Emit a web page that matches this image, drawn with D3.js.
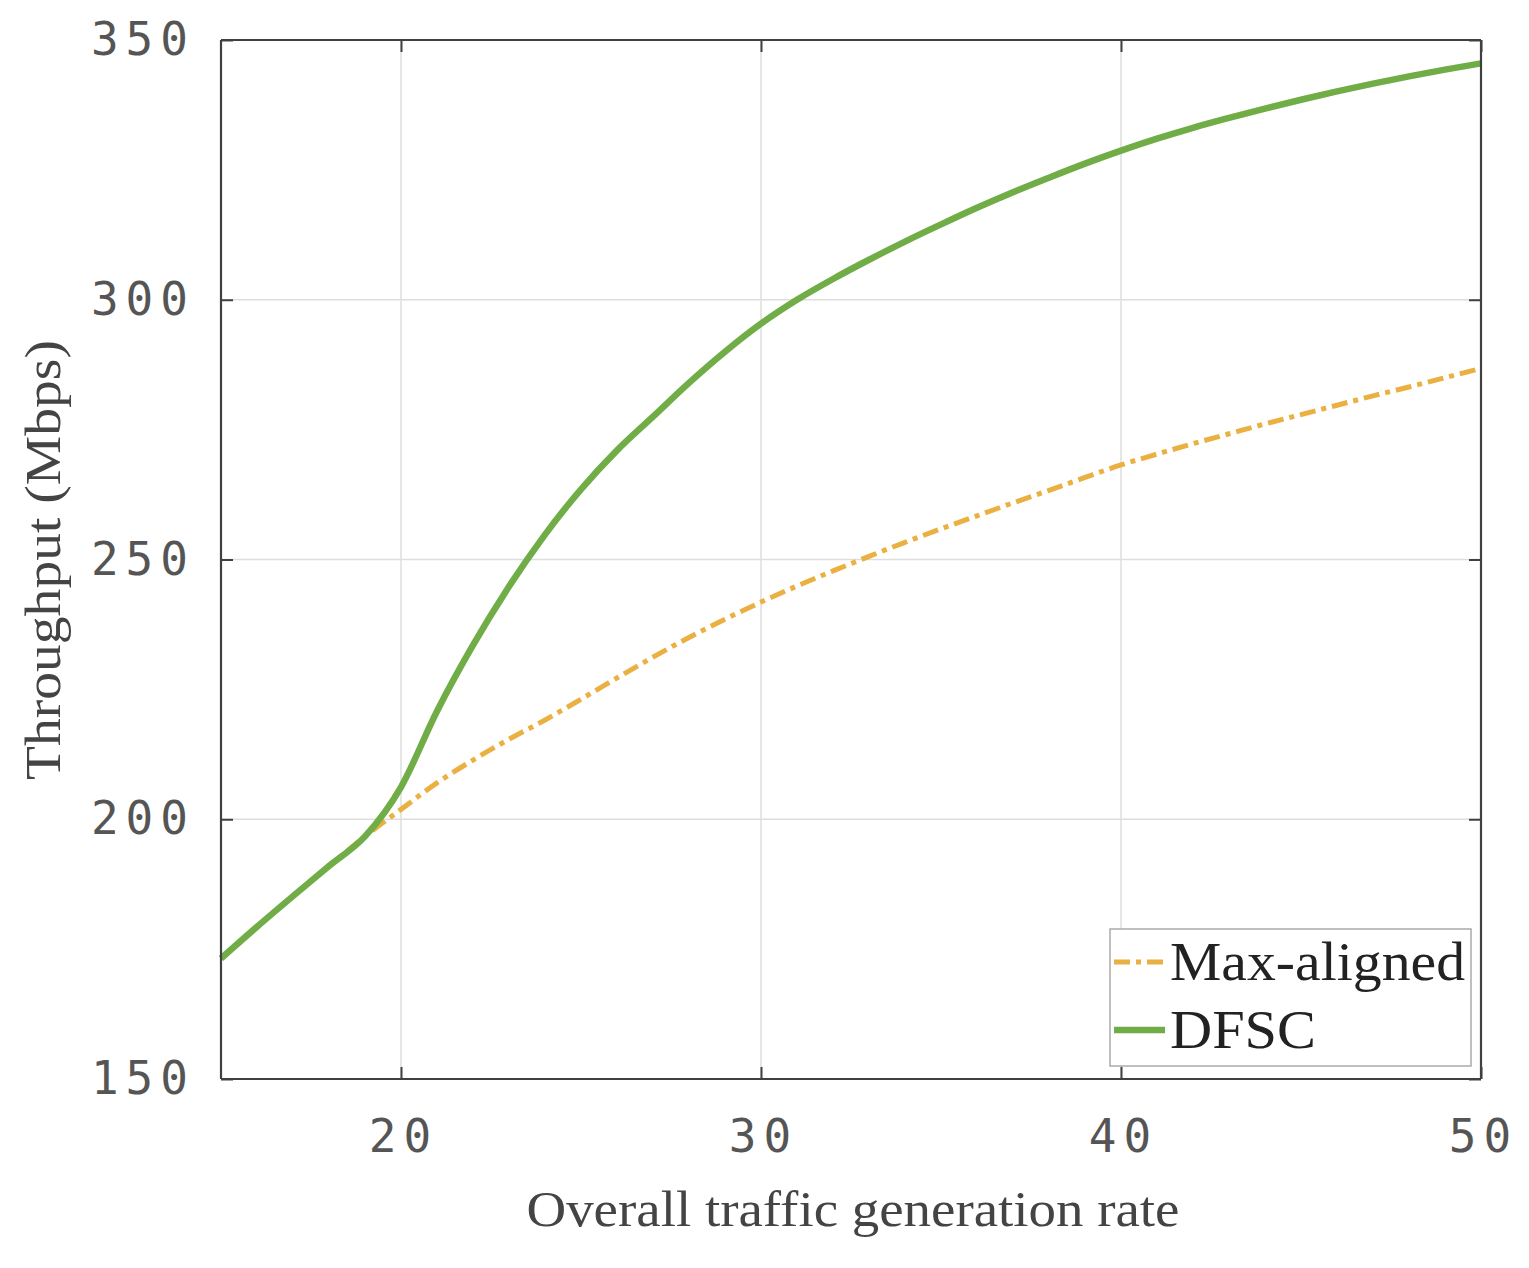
<!DOCTYPE html>
<html><head><meta charset="utf-8">
<script src="https://cdn.jsdelivr.net/npm/d3@7"></script>
<style>
body{margin:0;background:#fff;}
svg{display:block;}
</style></head>
<body>
<svg id="chart" width="1529" height="1268"></svg>
<script>
const xValues = [15,16,17,18,19,20,21,22,23,24,25,26,27,28,29,30,31,32,33,34,35,36,37,38,39,40,41,42,43,44,45,46,47,48,49,50];
const dfscValues = [173.2,179.3,185.2,191.0,196.7,206.2,220.8,233.5,244.8,254.8,263.5,271.0,277.5,284.0,290.0,295.4,300.0,304.0,307.7,311.2,314.5,317.7,320.7,323.5,326.2,328.7,331.0,333.1,335.0,336.8,338.5,340.1,341.6,343.0,344.3,345.5];
const maxAlignedValues = [173.2,179.3,185.2,191.0,196.7,201.9,207.0,211.4,215.4,219.1,223.1,227.2,231.2,235.0,238.5,241.8,244.9,247.8,250.6,253.3,255.9,258.4,260.9,263.3,265.8,268.2,270.3,272.3,274.2,276.1,277.9,279.7,281.5,283.2,285.0,286.8];
const xTicks = [20,30,40,50];
const yTicks = [150,200,250,300,350];
const seriesNames = ["Max-aligned","DFSC"];
const xLabel = "Overall traffic generation rate";
const yLabel = "Throughput (Mbps)";

const svg = d3.select("#chart");
const L=221, R=1481, T=40, B=1079;
const x = d3.scaleLinear().domain([15,50]).range([L,R]);
const y = d3.scaleLinear().domain([150,350]).range([B,T]);
const axisColor = "#404040";
const tickFont = "'DejaVu Sans Mono', monospace";
const serif = "'Liberation Serif', 'DejaVu Serif', serif";
const orange = "#EAB042", green = "#70AD47";
const dashDot = "16,6,5,6";

// grid
const grid = svg.append("g");
grid.selectAll("line.gx").data(xTicks).join("line")
  .attr("x1",d=>x(d)).attr("x2",d=>x(d)).attr("y1",T).attr("y2",B)
  .attr("stroke","#dedede").attr("stroke-width",1.5);
grid.selectAll("line.gy").data(yTicks).join("line")
  .attr("x1",L).attr("x2",R).attr("y1",d=>y(d)).attr("y2",d=>y(d))
  .attr("stroke","#dedede").attr("stroke-width",1.5);

// lines
const line = d3.line().x((d,i)=>x(xValues[i])).y(d=>y(d)).curve(d3.curveMonotoneX);
svg.append("path").datum(maxAlignedValues).attr("d",line)
  .attr("fill","none").attr("stroke",orange).attr("stroke-width",5)
  .attr("stroke-dasharray",dashDot);
svg.append("path").datum(dfscValues).attr("d",line)
  .attr("fill","none").attr("stroke",green).attr("stroke-width",6.5)
  .attr("stroke-linejoin","round");

// axes
const tickLen = 12;
const xAxisB = d3.axisBottom(x).tickValues(xTicks).tickSize(-tickLen).tickPadding(40).tickFormat(d3.format("d"));
const xAxisT = d3.axisTop(x).tickValues(xTicks).tickSize(-tickLen).tickFormat("");
const yAxisL = d3.axisLeft(y).tickValues(yTicks).tickSize(-tickLen).tickPadding(26).tickFormat(d3.format("d"));
const yAxisR = d3.axisRight(y).tickValues(yTicks).tickSize(-tickLen).tickFormat("");

function style(g){
  g.select(".domain").attr("stroke",axisColor).attr("stroke-width",2.2);
  g.selectAll(".tick line").attr("stroke",axisColor).attr("stroke-width",2);
  g.selectAll(".tick text").attr("fill","#555").attr("font-family",tickFont)
    .attr("font-size",46).attr("letter-spacing","7px");
}
svg.append("g").attr("transform",`translate(0,${B})`).call(xAxisB).call(style)
  .call(g=>g.select(".domain").attr("d",`M${L},0H${R}`))
  .call(g=>g.selectAll(".tick text").attr("dx","2px"));
svg.append("g").attr("transform",`translate(0,${T})`).call(xAxisT).call(style)
  .call(g=>g.select(".domain").attr("d",`M${L},0H${R}`));
svg.append("g").attr("transform",`translate(${L},0)`).call(yAxisL).call(style)
  .call(g=>g.select(".domain").attr("d",`M0,${T}V${B}`));
svg.append("g").attr("transform",`translate(${R},0)`).call(yAxisR).call(style)
  .call(g=>g.select(".domain").attr("d",`M0,${T}V${B}`));

// axis labels
svg.append("text").attr("x",853).attr("y",1226).attr("text-anchor","middle")
  .attr("font-family",serif).attr("font-size",50).attr("fill","#444")
  .attr("textLength",653).attr("lengthAdjust","spacingAndGlyphs").text(xLabel);
svg.append("text").attr("transform","translate(60,560) rotate(-90)").attr("text-anchor","middle")
  .attr("font-family",serif).attr("font-size",50).attr("fill","#444")
  .attr("textLength",440).attr("lengthAdjust","spacingAndGlyphs").text(yLabel);

// legend
const lg = svg.append("g");
lg.append("rect").attr("x",1110).attr("y",929).attr("width",361).attr("height",137)
  .attr("fill","#fff").attr("stroke","#aaa").attr("stroke-width",1.5);
const legendItems = [
  {name:seriesNames[0], color:orange, w:5, dash:dashDot, cy:962, len:295},
  {name:seriesNames[1], color:green, w:6.5, dash:null, cy:1030, len:146}
];
legendItems.forEach(it=>{
  lg.append("line").attr("x1",1114).attr("x2",1165).attr("y1",it.cy).attr("y2",it.cy)
    .attr("stroke",it.color).attr("stroke-width",it.w).attr("stroke-dasharray",it.dash);
  lg.append("text").attr("x",1170).attr("y",it.cy+18).attr("font-family",serif)
    .attr("font-size",54).attr("fill","#222")
    .attr("textLength",it.len).attr("lengthAdjust","spacingAndGlyphs").text(it.name);
});
</script>
</body></html>
